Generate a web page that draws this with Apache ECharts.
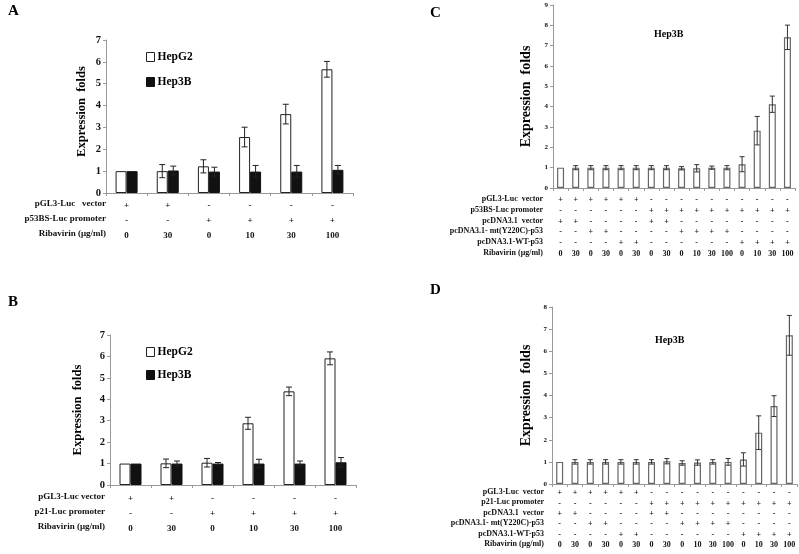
<!DOCTYPE html>
<html><head><meta charset="utf-8">
<script src="https://cdn.jsdelivr.net/npm/echarts@6/dist/echarts.min.js"></script>
<style>html,body{margin:0;padding:0;background:#fff}#c{width:799px;height:554px}</style>
</head><body><div id="c"></div>
<script>
// ---------- Data ----------
const catsAB = ['0','1','2','3','4','5'];
const catsCD = ['0','1','2','3','4','5','6','7','8','9','10','11','12','13','14','15'];

const aHepG2 = [1.0, 1.0, 1.22, 2.56, 3.61, 5.66];
const aHepG2Err = [0, 0.3, 0.3, 0.45, 0.45, 0.36];
const aHep3B = [1.0, 1.03, 0.98, 0.98, 0.98, 1.06];
const aHep3BErr = [0, 0.2, 0.2, 0.28, 0.28, 0.2];

const bHepG2 = [1.0, 1.01, 1.04, 2.88, 4.37, 5.91];
const bHepG2Err = [0, 0.2, 0.2, 0.28, 0.2, 0.3];
const bHep3B = [1.0, 1.0, 1.0, 1.0, 1.0, 1.06];
const bHep3BErr = [0, 0.12, 0.05, 0.2, 0.12, 0.22];

const cVals = [1.0,1.0,1.0,1.0,1.0,1.0,1.0,1.0,0.97,0.97,1.0,1.0,1.17,2.82,4.12,7.41];
const cErr  = [0,0.1,0.1,0.1,0.1,0.1,0.1,0.1,0.08,0.18,0.08,0.1,0.37,0.7,0.4,0.6];
const dVals = [1.0,1.0,1.0,1.0,1.0,1.0,1.0,1.03,0.95,0.97,1.0,1.0,1.11,2.32,3.52,6.72];
const dErr  = [0,0.1,0.1,0.1,0.1,0.1,0.1,0.12,0.1,0.12,0.1,0.15,0.3,0.76,0.47,0.9];

const rowsANames = ['pGL3-Luc   vector', 'p53BS-Luc promoter', 'Ribavirin (\u03bcg/ml)'];
const rowsBNames = ['pGL3-Luc vector', 'p21-Luc promoter', 'Ribavirin (\u03bcg/ml)'];
const rowsAB = [
  ['+','+','-','-','-','-'],
  ['-','-','+','+','+','+'],
  ['0','30','0','10','30','100']
];
const rowsCNames = ['pGL3-Luc  vector','p53BS-Luc promoter','pcDNA3.1  vector','pcDNA3.1- mt(Y220C)-p53','pcDNA3.1-WT-p53','Ribavirin (\u03bcg/ml)'];
const rowsDNames = ['pGL3-Luc  vector','p21-Luc promoter','pcDNA3.1  vector','pcDNA3.1- mt(Y220C)-p53','pcDNA3.1-WT-p53','Ribavirin (\u03bcg/ml)'];
const rowsCD = [
  ['+','+','+','+','+','+','-','-','-','-','-','-','-','-','-','-'],
  ['-','-','-','-','-','-','+','+','+','+','+','+','+','+','+','+'],
  ['+','+','-','-','-','-','+','+','-','-','-','-','-','-','-','-'],
  ['-','-','+','+','-','-','-','-','+','+','+','+','-','-','-','-'],
  ['-','-','-','-','+','+','-','-','-','-','-','-','+','+','+','+'],
  ['0','30','0','30','0','30','0','30','0','10','30','100','0','10','30','100']
];
const yTitle = 'Expression  folds';
const legendNames = ['HepG2', 'Hep3B'];
const panelLetters = ['A','B','C','D'];
const cellTitle = 'Hep3B';

// ---------- Chart ----------
const FF = '"Liberation Serif", "Times New Roman", serif';
const chart = echarts.init(document.getElementById('c'), null, {renderer: 'canvas'});

const grids = [
  {left: 106, top: 40, width: 247, height: 153},
  {left: 110, top: 335, width: 246, height: 150},
  {left: 553, top: 5, width: 242, height: 183},
  {left: 552, top: 307, width: 245, height: 177}
];

function xAx(idx, cats, rows, fs, lh, margin) {
  return {
    type: 'category', gridIndex: idx, data: cats,
    axisLine: {lineStyle: {color: '#999', width: 1}},
    axisTick: {show: true, length: 3, lineStyle: {color: '#999'}},
    axisLabel: {
      interval: 0, margin: margin, lineHeight: lh,
      fontFamily: FF, fontWeight: 'bold', fontSize: fs, color: '#111',
      formatter: (v, i) => rows.map(r => r[i]).join('\n')
    }
  };
}
function yAx(idx, max, fs, nameSize, nameGap, shift) {
  return {
    type: 'value', gridIndex: idx, min: 0, max: max, interval: 1,
    splitLine: {show: false},
    axisLine: {show: true, lineStyle: {color: '#999'}},
    axisTick: {show: true, length: 3, lineStyle: {color: '#999'}},
    axisLabel: {fontFamily: FF, fontWeight: 'bold', fontSize: fs, color: '#111', margin: 5},
    name: yTitle, nameLocation: 'middle', nameRotate: 90, nameGap: nameGap,
    nameTextStyle: {fontFamily: FF, fontWeight: 'bold', fontSize: nameSize, color: '#000',
      padding: shift > 0 ? [0, 0, 0, shift] : [0, -shift, 0, 0]}
  };
}

function errSeries(xi, vals, errs, offset, cap, color) {
  return {
    type: 'custom', xAxisIndex: xi, yAxisIndex: xi, silent: true, z: 10,
    data: vals.map((v, i) => [i, v, errs[i]]),
    renderItem: function (params, api) {
      const e = api.value(2);
      if (!e) return null;
      const v = api.value(1);
      const top = api.coord([api.value(0), v + e]);
      const bot = api.coord([api.value(0), v - e]);
      const x = top[0] + offset;
      const st = {stroke: color, lineWidth: 1};
      return {type: 'group', children: [
        {type: 'line', shape: {x1: x, y1: top[1], x2: x, y2: bot[1]}, style: st},
        {type: 'line', shape: {x1: x - cap, y1: top[1], x2: x + cap, y2: top[1]}, style: st},
        {type: 'line', shape: {x1: x - cap, y1: bot[1], x2: x + cap, y2: bot[1]}, style: st}
      ]};
    }
  };
}

const bwAB = 11;
const whiteBar = {color: '#fff', borderColor: '#222', borderWidth: 1};
const blackBar = {color: '#111', borderColor: '#111', borderWidth: 1};
const cdBar = {color: '#fff', borderColor: '#666', borderWidth: 1.2};

const series = [
  {name: 'HepG2', type: 'bar', xAxisIndex: 0, yAxisIndex: 0, data: aHepG2, barWidth: bwAB, barGap: '0%', itemStyle: whiteBar},
  {name: 'Hep3B', type: 'bar', xAxisIndex: 0, yAxisIndex: 0, data: aHep3B, barWidth: bwAB, barGap: '0%', itemStyle: blackBar},
  errSeries(0, aHepG2, aHepG2Err, -bwAB / 2, 3, '#222'),
  errSeries(0, aHep3B, aHep3BErr, bwAB / 2, 3, '#222'),
  {name: 'HepG2', type: 'bar', xAxisIndex: 1, yAxisIndex: 1, data: bHepG2, barWidth: bwAB, barGap: '0%', itemStyle: whiteBar},
  {name: 'Hep3B', type: 'bar', xAxisIndex: 1, yAxisIndex: 1, data: bHep3B, barWidth: bwAB, barGap: '0%', itemStyle: blackBar},
  errSeries(1, bHepG2, bHepG2Err, -bwAB / 2, 3, '#222'),
  errSeries(1, bHep3B, bHep3BErr, bwAB / 2, 3, '#222'),
  {name: 'C', type: 'bar', xAxisIndex: 2, yAxisIndex: 2, data: cVals, barWidth: 7, itemStyle: cdBar},
  errSeries(2, cVals, cErr, 0, 2.5, '#333'),
  {name: 'D', type: 'bar', xAxisIndex: 3, yAxisIndex: 3, data: dVals, barWidth: 7, itemStyle: cdBar},
  errSeries(3, dVals, dErr, 0, 2.5, '#333')
];

function rowLabels(names, right, y0, dy, fs) {
  return names.map((n, i) => ({
    type: 'text', right: 799 - right, top: y0 + i * dy - fs / 2 - 1,
    style: {text: n, font: 'bold ' + fs + 'px ' + FF, fill: '#111', textAlign: 'right'}
  }));
}

const graphics = [
  {type: 'text', left: 8, top: 4, style: {text: panelLetters[0], font: 'bold 15px ' + FF, fill: '#000'}},
  {type: 'text', left: 8, top: 295, style: {text: panelLetters[1], font: 'bold 15px ' + FF, fill: '#000'}},
  {type: 'text', left: 430, top: 6, style: {text: panelLetters[2], font: 'bold 15px ' + FF, fill: '#000'}},
  {type: 'text', left: 430, top: 283, style: {text: panelLetters[3], font: 'bold 15px ' + FF, fill: '#000'}},
  {type: 'text', left: 654, top: 29, style: {text: cellTitle, font: 'bold 10px ' + FF, fill: '#000'}},
  {type: 'text', left: 655, top: 335, style: {text: cellTitle, font: 'bold 10px ' + FF, fill: '#000'}}
].concat(
  rowLabels(rowsANames, 106, 205, 15, 9),
  rowLabels(rowsBNames, 105, 498, 15, 9),
  rowLabels(rowsCNames, 543, 200, 10.8, 8),
  rowLabels(rowsDNames, 544, 493, 10.4, 8)
);

const legendStyle = (top, gap) => ({
  data: legendNames, orient: 'vertical', left: 141, top: top, itemGap: gap,
  itemWidth: 8, itemHeight: 9, icon: 'rect', selectedMode: false, itemStyle: {borderWidth: 1},
  textStyle: {fontFamily: FF, fontWeight: 'bold', fontSize: 11.5, color: '#000', padding: [0, 0, 0, -2]}
});

chart.setOption({
  animation: false,
  backgroundColor: '#fff',
  grid: grids,
  xAxis: [
    xAx(0, catsAB, rowsAB, 9, 15, 5),
    xAx(1, catsAB, rowsAB, 9, 15, 6),
    xAx(2, catsCD, rowsCD, 8, 10.8, 6.5),
    xAx(3, catsCD, rowsCD, 8, 10.4, 4)
  ],
  yAxis: [
    yAx(0, 7, 10.5, 12.5, 18, 10),
    yAx(1, 7, 10.5, 12.5, 26, 0),
    yAx(2, 9, 7, 14, 20, 0),
    yAx(3, 8, 7, 14, 19, 0)
  ],
  legend: [legendStyle(46, 13), legendStyle(341, 11)],
  series: series,
  graphic: graphics
});
</script></body></html>
